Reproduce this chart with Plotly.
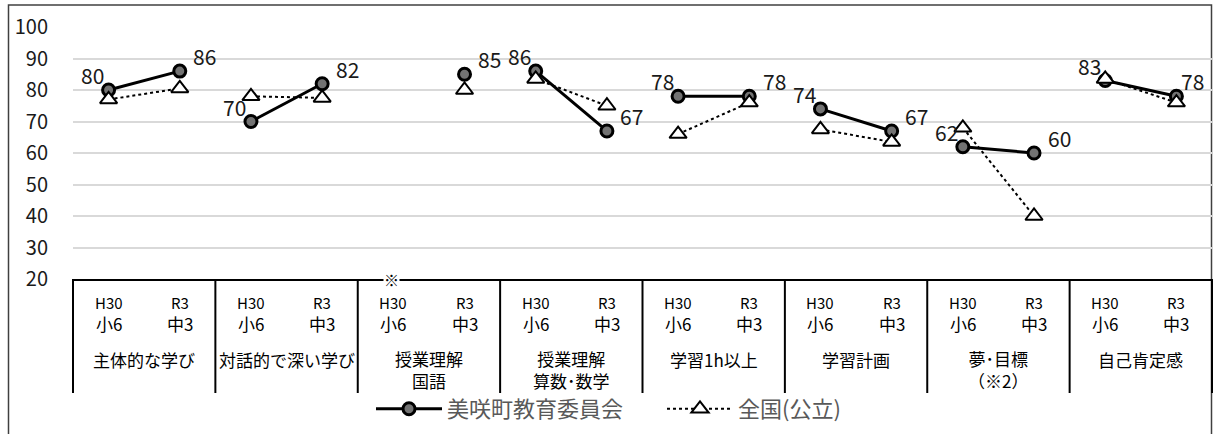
import plotly.graph_objects as go

# ---------------- data ----------------
groups = ["主体的な学び", "対話的で深い学び", "授業理解<br>国語", "授業理解<br>算数･数学",
          "学習1h以上", "学習計画", "夢･目標<br>（※2）", "自己肯定感"]
years = ["H30", "R3"]
grades = ["小6", "中3"]
town_name = "美咲町教育委員会"
national_name = "全国(公立)"
town = [80, 86, 70, 82, None, 85, 86, 67, 78, 78, 74, 67, 62, 60, 83, 78]
national = [77, 80.5, 78, 77.5, None, 80, 83.5, 75, 66, 76, 67.5, 63.5, 68, 40, 83.5, 76]
y_ticks = [20, 30, 40, 50, 60, 70, 80, 90, 100]

# ---------------- layout constants ----------------
W, H = 1213, 434
M_L, M_R, M_T, M_B = 73, 1, 27, 155
PLOT_W = W - M_L - M_R
PLOT_H = H - M_T - M_B
FONT = "Noto Sans CJK JP"


def py(px):  # pixel y -> paper y
    return (H - M_B - px) / PLOT_H


def pxx(px):  # pixel x -> paper x
    return (px - M_L) / PLOT_W


n_groups = len(groups)
n_pts = n_groups * len(years)


def broken(vals):
    xs, ys = [], []
    for g in range(n_groups):
        for k in range(len(years)):
            i = g * len(years) + k
            xs.append(i)
            ys.append(vals[i])
        xs.append(g * len(years) + len(years) - 0.5)
        ys.append(None)
    return xs, ys


fig = go.Figure()

tx, ty = broken(town)
fig.add_trace(go.Scatter(
    x=tx, y=ty, name=town_name, mode="lines+markers",
    line=dict(color="black", width=3),
    marker=dict(symbol="circle", size=12, color="#737373", line=dict(color="black", width=3)),
    connectgaps=False, cliponaxis=False,
))
nx, ny = broken(national)
fig.add_trace(go.Scatter(
    x=nx, y=ny, name=national_name, mode="lines+markers",
    line=dict(color="black", width=2, dash="dot"),
    marker=dict(symbol="triangle-up", size=15, color="white", line=dict(color="black", width=2)),
    connectgaps=False, cliponaxis=False,
))

annotations = []
# data labels for town series
for i, v in enumerate(town):
    if v is None:
        continue
    first = (i % 2 == 0)
    if first:
        xs = -16
    elif i == n_pts - 1:
        xs = 16
    else:
        xs = 25
    annotations.append(dict(
        x=i, y=v, xref="x", yref="y", text=str(v), showarrow=False,
        xshift=xs, yshift=15,
        font=dict(family=FONT, size=21, color="#1a1a1a"),
    ))

# category table texts
for i in range(n_pts):
    k = i % 2
    annotations.append(dict(x=i, y=py(302), xref="x", yref="paper", text=years[k],
                            showarrow=False, yanchor="middle", borderpad=0,
                            font=dict(family=FONT, size=15, color="black")))
    annotations.append(dict(x=i, y=py(323), xref="x", yref="paper", text=grades[k],
                            showarrow=False, yanchor="middle", borderpad=0,
                            font=dict(family=FONT, size=17, color="black")))
for g, name in enumerate(groups):
    n_lines = name.count("<br>") + 1
    annotations.append(dict(x=g * 2 + 0.5, y=py(359 + 10.5 * (n_lines - 1)), xref="x",
                            yref="paper", text=name, showarrow=False, yanchor="middle",
                            borderpad=0,
                            font=dict(family=FONT, size=17, color="black")))

# ※ mark on the axis line
annotations.append(dict(x=4, xshift=-2, y=0, xref="x", yref="paper", text="※",
                        showarrow=False, yanchor="middle", bgcolor="white", borderpad=0,
                        font=dict(family=FONT, size=15, color="black")))

shapes = []
# group separators
for k in range(n_groups + 1):
    shapes.append(dict(type="line", xref="x domain", yref="paper",
                       x0=k / n_groups, x1=k / n_groups, y0=0, y1=py(393),
                       line=dict(color="black", width=2)))
# outer chart border
shapes.append(dict(type="rect", xref="paper", yref="paper",
                   x0=pxx(8.5), x1=pxx(1211.5), y0=py(5), y1=py(445),
                   line=dict(color="#404040", width=1.5), fillcolor="rgba(0,0,0,0)", layer="below"))

fig.update_layout(
    width=W, height=H,
    margin=dict(l=M_L, r=M_R, t=M_T, b=M_B, autoexpand=False),
    paper_bgcolor="white", plot_bgcolor="white",
    font=dict(family=FONT, color="#1a1a1a"),
    showlegend=True,
    legend=dict(orientation="h", x=pxx(371), y=py(409), xanchor="left", yanchor="middle",
                font=dict(family=FONT, size=22, color="#595959"),
                itemwidth=66, entrywidth=210, bgcolor="rgba(0,0,0,0)"),
    xaxis=dict(range=[-0.5, n_pts - 0.5], showgrid=False, zeroline=False,
               showticklabels=False, ticks="", showline=True, linecolor="black", linewidth=2),
    yaxis=dict(range=[20, 100], tickvals=y_ticks, showgrid=True, gridcolor="#d9d9d9",
               gridwidth=1.5, zeroline=False, showline=False, ticks="",
               ticklabelstandoff=24,
               tickfont=dict(family=FONT, size=20, color="#1a1a1a")),
    annotations=annotations,
    shapes=shapes,
)

fig.write_html("out.html", config={"displayModeBar": False},
               post_script="document.body.style.margin='0px';")
